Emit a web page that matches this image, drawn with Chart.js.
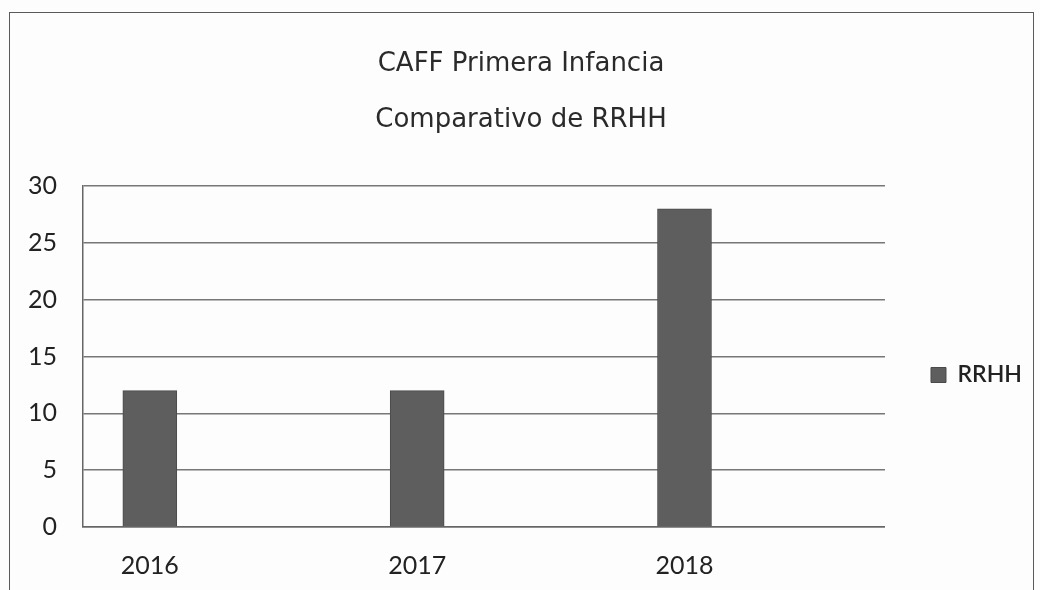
<!DOCTYPE html>
<html>
<head>
<meta charset="utf-8">
<script src="https://cdn.jsdelivr.net/npm/chart.js@4/dist/chart.umd.min.js"></script>
<style>
  html, body { margin: 0; padding: 0; background: #ffffff; }
  #wrap { position: relative; width: 1040px; height: 590px; overflow: hidden; background: #fdfdfd; }
  #frame { position: absolute; left: 9px; top: 12px; width: 1025px; height: 640px; border: 1.5px solid #5a5a5a; box-sizing: border-box; }
  canvas { position: absolute; left: 0; top: 0; }
</style>
</head>
<body>
<div id="wrap">
  <div id="frame"></div>
  <canvas id="c" width="1040" height="590"></canvas>
</div>
<script>
const categories = ['2016', '2017', '2018'];
const rrhh = [12, 12, 28];
const yTicks = [0, 5, 10, 15, 20, 25, 30];
const seriesName = 'RRHH';
const titleLines = ['CAFF Primera Infancia', 'Comparativo de RRHH'];

const years = categories.map(Number);
const points = categories.map((c, i) => ({ x: years[i], y: rrhh[i] }));

new Chart(document.getElementById('c'), {
  type: 'bar',
  data: {
    datasets: [{
      label: seriesName,
      data: points,
      backgroundColor: '#5e5e5e',
      borderColor: '#4a4a4a',
      borderWidth: 1,
      barThickness: 54
    }]
  },
  options: {
    responsive: false,
    animation: false,
    devicePixelRatio: 1,
    layout: { padding: { top: 12, left: 10, right: 8, bottom: 13 } },
    plugins: {
      tooltip: { enabled: false },
      title: {
        display: true,
        text: titleLines,
        color: '#2a2a2a',
        font: { family: 'DejaVu Sans', size: 26, weight: '400', lineHeight: 56 / 26 },
        padding: { top: 24, bottom: 38 }
      },
      legend: {
        position: 'right',
        fullSize: false,
        title: { display: true, text: ' ', font: { size: 10, lineHeight: 1 }, padding: { top: 27, bottom: 0 } },
        labels: {
          boxWidth: 15,
          boxHeight: 15,
          padding: 46,
          color: '#222',
          font: { family: 'Lato', size: 23, weight: '600' }
        }
      }
    },
    scales: {
      x: {
        type: 'linear',
        offset: false,
        min: 2015.75,
        max: 2018.75,
        afterBuildTicks: (s) => { s.ticks = years.map(v => ({ value: v })); },
        afterFit: (s) => { s.height = 50; },
        grid: { display: false, drawTicks: false, offset: false },
        border: { display: true, color: '#666', width: 1.5 },
        ticks: {
          padding: 24,
          color: '#222',
          font: { family: 'Lato', size: 25 },
          callback: (v) => categories[years.indexOf(v)] ?? ''
        }
      },
      y: {
        min: 0,
        max: 30,
        afterBuildTicks: (s) => { s.ticks = yTicks.map(v => ({ value: v })); },
        afterFit: (s) => { s.width = 73; },
        grid: { color: '#777', lineWidth: 1.5, drawTicks: false },
        border: { display: true, color: '#666', width: 1.5 },
        ticks: {
          padding: 26,
          color: '#222',
          font: { family: 'Lato', size: 25 },
          callback: (v) => String(v)
        }
      }
    }
  }
});
</script>
</body>
</html>
